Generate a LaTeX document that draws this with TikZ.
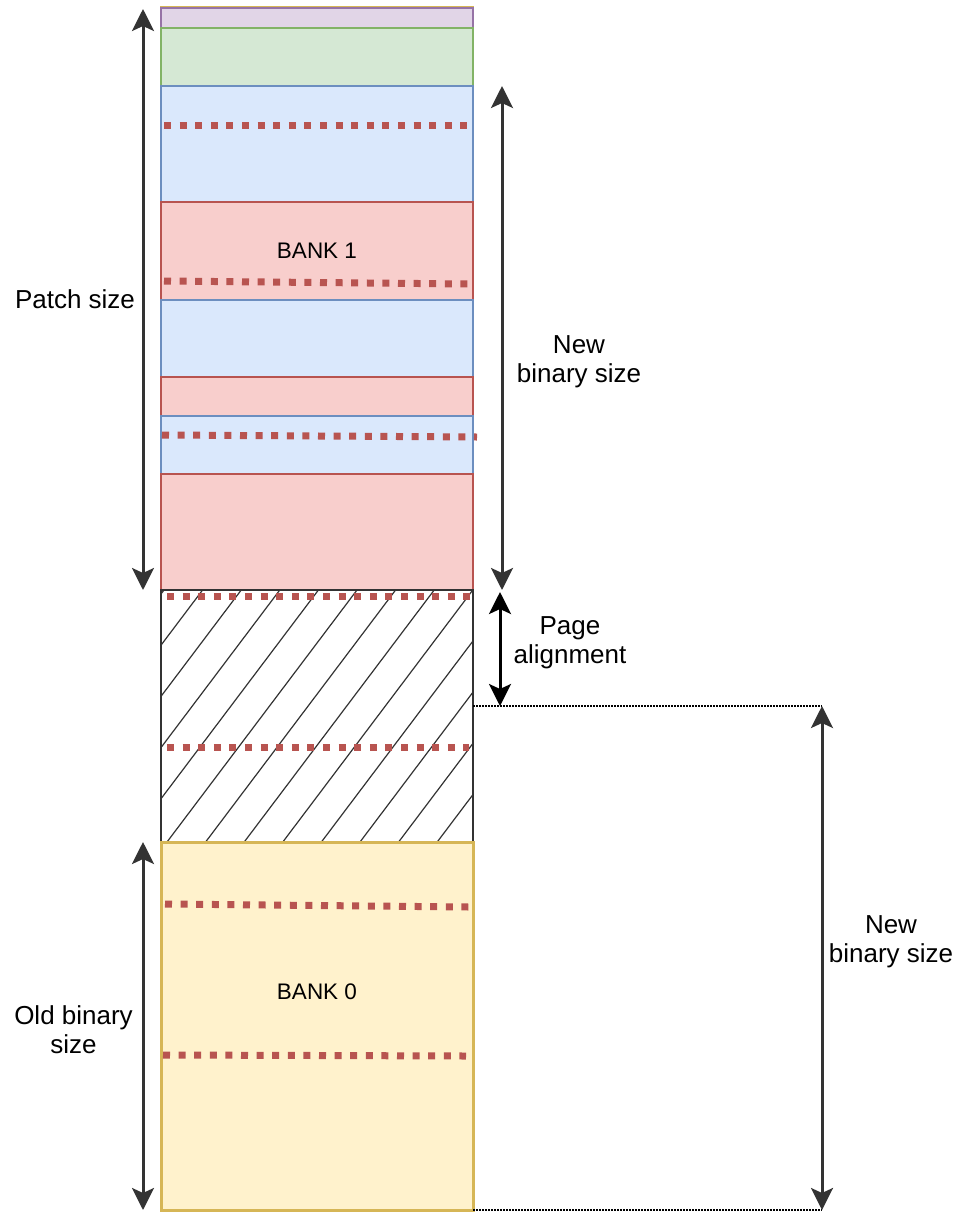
\documentclass[tikz,border=0pt]{standalone}
\usepackage{fontspec}
\setmainfont{Liberation Sans}
\usetikzlibrary{arrows.meta}
\definecolor{pfill}{HTML}{E1D5E7}\definecolor{pline}{HTML}{9673A6}
\definecolor{gfill}{HTML}{D5E8D4}\definecolor{gline}{HTML}{82B366}
\definecolor{bfill}{HTML}{DAE8FC}\definecolor{bline}{HTML}{6C8EBF}
\definecolor{rfill}{HTML}{F8CECC}\definecolor{rline}{HTML}{B85450}
\definecolor{yfill}{HTML}{FFF2CC}\definecolor{yline}{HTML}{D6B656}
\definecolor{dgray}{HTML}{333333}
\tikzset{
  block/.style={draw, line width=1.5pt, inner sep=0pt, outer sep=0pt, anchor=north west, minimum width=312pt},
  purpleblk/.style={block, fill=pfill, draw=pline},
  greenblk/.style={block, fill=gfill, draw=gline},
  blueblk/.style={block, fill=bfill, draw=bline},
  redblk/.style={block, fill=rfill, draw=rline},
  yellowblk/.style={block, fill=yfill, draw=yline, line width=3pt},
  hatchblk/.style={block, draw=dgray},
  reddots/.style={draw=rline, line width=7pt, dash pattern=on 7pt off 8.6pt},
  hatchline/.style={draw=dgray, line width=1.2pt},
  dimarrow/.style={draw=dgray, line width=3pt, {Stealth[length=22pt,width=22pt,inset=5pt]}-{Stealth[length=22pt,width=22pt,inset=5pt]}},
  blackarrow/.style={draw=black, line width=3pt, {Stealth[length=22pt,width=22pt,inset=5pt]}-{Stealth[length=22pt,width=22pt,inset=5pt]}},
  guide/.style={draw=black, line width=1.5pt, dash pattern=on 1.5pt off 1.5pt},
  lbl/.style={font=\fontsize{26}{29}\selectfont, align=center, inner sep=0pt},
  banklbl/.style={font=\fontsize{22.5}{26}\selectfont}
}
\begin{document}
\begin{tikzpicture}[x=1pt,y=-1pt]
\useasboundingbox (0,0) rectangle (963,1216);
% outer container
\draw[yline, line width=1.5pt] (160.5,7) rectangle (473.5,590.5);
% blocks
\node[purpleblk, minimum height=20pt] (b1) at (161,8) {};
\node[greenblk, minimum height=58pt] (b2) at (161,28) {};
\node[blueblk, minimum height=116pt] (b3) at (161,86) {};
\node[redblk, minimum height=98pt, banklbl] (bank1) at (161,202) {BANK 1};
\node[blueblk, minimum height=77pt] (b5) at (161,300) {};
\node[redblk, minimum height=39pt] (b6) at (161,377) {};
\node[blueblk, minimum height=58pt] (b7) at (161,416) {};
\node[redblk, minimum height=116pt] (b8) at (161,474) {};
\node[hatchblk, minimum height=252pt] (hatch) at (161,590) {};
\begin{scope}
\clip (161,590) rectangle (473,842);
\foreach \k in {-7,...,8}{
  \draw[hatchline] ({167+38.6*\k},842) -- ({357+38.6*\k},590);
}
\end{scope}
\draw[dgray, line width=1.5pt] (161,590) rectangle (473,842);
\node[yellowblk, minimum height=368pt] (bank0) at (161,842) {};
\node[banklbl, anchor=base] (bank0lbl) at (317,999) {BANK 0};
% red dotted lines
\draw[reddots] (164,125) -- (467,125);
\draw[reddots] (164,281) -- (470,284);
\draw[reddots] (162,435) -- (477,437);
\draw[reddots] (167,596) -- (470,596);
\draw[reddots] (167,747) -- (469,747);
\draw[reddots] (165,904) -- (469,907);
\draw[reddots] (163,1055) -- (466,1056);
% arrow end coordinates
\coordinate (pT) at (143,9);   \coordinate (pB) at (143,590);
\coordinate (nT) at (502,86);  \coordinate (nB) at (502,590);
\coordinate (aT) at (500,592); \coordinate (aB) at (500,706);
\coordinate (rT) at (822,706); \coordinate (rB) at (822,1210);
\coordinate (oT) at (143,842); \coordinate (oB) at (143,1210);
\coordinate (g1) at (473,706); \coordinate (g2) at (473,1210);
% guides
\draw[guide] (g1) -- (rT);
\draw[guide] (g2) -- (rB);
% arrows
\draw[dimarrow] (pT) -- (pB);
\draw[dimarrow] (nT) -- (nB);
\draw[blackarrow] (aT) -- (aB);
\draw[dimarrow] (rT) -- (rB);
\draw[dimarrow] (oT) -- (oB);
% labels
\node[lbl, anchor=base] (patch) at (75,308) {Patch size};
\node[lbl] (newtop) at (579,361.5) {New\\binary size};
\node[lbl] (pagealign) at (570,642.5) {Page\\alignment};
\node[lbl] (newright) at (891,941.5) {New\\binary size};
\node[lbl] (oldbin) at (73.5,1030) {Old binary\\size};
\end{tikzpicture}
\end{document}
